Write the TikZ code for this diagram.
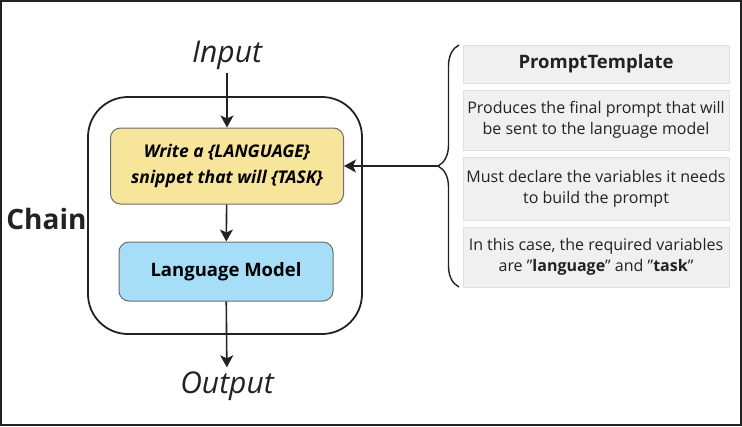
\documentclass[tikz,border=0pt]{standalone}
\usepackage{fontspec}
\setmainfont{Open Sans}
\usetikzlibrary{arrows.meta,decorations.pathreplacing}

\definecolor{promptyellow}{RGB}{248,229,156}
\definecolor{modelblue}{RGB}{166,222,248}
\definecolor{notegray}{RGB}{240,240,240}
\definecolor{noteedge}{RGB}{224,224,224}
\definecolor{ink}{RGB}{34,34,34}
\newcommand\straightq{\symbol{34}}

\begin{document}
\begin{tikzpicture}[x=1pt, y=-1pt,
  flow/.style={draw=ink, line width=1.6pt, -{Stealth[length=12pt, width=13pt, inset=3pt]}},
  stage/.style={draw=gray!85!black, line width=1pt, rounded corners=10pt, font=\fontsize{18.5}{26}\selectfont\bfseries},
  note/.style={draw=noteedge, line width=1pt, fill=notegray, minimum width=266pt, align=center, inner sep=2pt,
    font=\fontsize{16}{21}\selectfont, text=ink}]
\useasboundingbox (0,0) rectangle (742,426);
\draw[line width=2pt, ink] (1,1) rectangle (741,425);

%% the chain
\node[draw=ink, line width=1.8pt, rounded corners=40pt, minimum width=274pt, minimum height=237pt] (chain) at (225,215.5) {};
\node[anchor=east, font=\fontsize{28}{30}\selectfont\bfseries, text=ink] (chainlabel) at (90,219) {Chain};

\node[stage, fill=promptyellow, minimum width=233pt, minimum height=76pt, align=center, font=\fontsize{17.5}{26}\selectfont\bfseries\itshape] (prompt) at (227,166) {Write a \{LANGUAGE\}\\snippet that will \{TASK\}};
\node[stage, fill=modelblue, minimum width=214pt, minimum height=59pt] (model) at (226,271.5) {Language Model};

\node[font=\fontsize{30}{32}\selectfont\itshape, text=ink, inner sep=4pt] (input) at (227,55) {Input};
\node[font=\fontsize{30}{32}\selectfont\itshape, text=ink, inner sep=4pt] (output) at (227,386) {Output};

\draw[flow] (input) -- (prompt);
\draw[flow] (prompt) -- (model);
\draw[flow] (model) -- (output);

%% prompt template notes
\node[note, minimum height=38pt, font=\fontsize{18.5}{22}\selectfont\bfseries] (title) at (596,64) {PromptTemplate};
\node[note, minimum height=60pt] (note1) at (596,120) {Produces the final prompt that will\\be sent to the language model};
\node[note, minimum height=63pt] (note2) at (596,188.5) {Must declare the variables it needs\\to build the prompt};
\node[note, minimum height=60pt] (note3) at (596,257) {In this case, the required variables\\are \straightq\textbf{language}\straightq{} and \straightq\textbf{task}\straightq};

% brace and pointer
\draw[ink, line width=1.4pt, decorate, decoration={brace, amplitude=21pt}] (459,287) -- (459,45);
\coordinate (tip) at (438,166);
\draw[flow] (tip) -- (prompt.east);
\end{tikzpicture}
\end{document}
